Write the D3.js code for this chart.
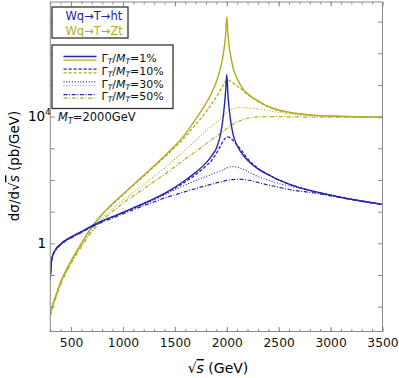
<!DOCTYPE html>
<html><head><meta charset="utf-8">
<script src="https://cdn.jsdelivr.net/npm/d3@7"></script>
<style>body{margin:0;background:#fff} text{font-family:"DejaVu Sans",sans-serif}</style>
</head><body><svg id="c" width="399" height="378"></svg>
<script>
// sqrt(s) in GeV
const sqrtS = [300,310,320,350,400,500,600,700,800,900,1000,1100,1200,1300,1400,1500,1600,1700,1800,1850,1900,1940,1960,1980,1990,2000,2010,2020,2040,2060,2100,2150,2200,2300,2400,2500,2600,2700,2800,3000,3200,3500];
// Wq -> T -> ht  (pb/GeV)
const ht1  = [0.0759,0.251,0.380,0.631,0.955,1.585,2.344,3.548,5.129,6.918,9.550,13.18,18.20,25.70,38.02,58.88,97.72,173.8,346.7,549.5,1000,2818,7079,28180,70790,213800,56230,22390,6310,2818,1202,660.7,416.9,223.9,147.9,100,74.13,57.54,46.77,33.11,24.55,16.98];
const ht10 = [0.0741,0.2455,0.3715,0.6166,0.9333,1.549,2.291,3.467,5.012,6.761,9.333,12.88,17.78,25.12,36.31,54.95,87.10,147.9,275.4,398.1,691.8,1202,1585,1995,2188,2291,2291,2239,2042,1778,1259,794.3,478.6,234.4,147.9,100,74.13,57.54,46.77,33.11,24.55,16.98];
const ht30 = [0.07244,0.2399,0.3631,0.6026,0.9120,1.514,2.239,3.388,4.898,6.607,9.120,12.59,17.38,23.99,33.88,48.98,69.18,95.50,128.8,147.9,173.8,195.0,208.9,223.9,229.1,239.9,245.5,251.2,263.0,263.0,251.2,223.9,186.2,128.8,97.72,77.62,64.57,54.95,46.77,33.11,24.55,16.98];
const ht50 = [0.07079,0.2344,0.3548,0.5888,0.8913,1.479,2.188,3.311,4.677,6.310,8.511,11.48,15.49,20.42,26.92,33.88,42.66,53.70,66.07,72.44,81.28,87.10,89.13,93.33,95.50,97.72,97.72,100,102.3,102.3,104.7,104.7,100,83.18,69.18,58.88,50.12,44.67,40.74,31.62,23.99,16.60];
// Wq -> T -> Zt  (pb/GeV)
const zt1  = [0.005623,0.007943,0.01072,0.02089,0.06026,0.2818,1,3.311,8.318,17.78,35.48,70.79,141.3,281.8,575.4,1202,2818,8318,26300,52480,125900,354800,707900,1995000,4169000,14130000,4786000,1995000,758600,354800,158500,79430,52480,31620,20890,16220,13800,12300,11220,10470,10000,9550];
const zt10 = [0.00537,0.007586,0.01023,0.01995,0.05754,0.2692,0.955,3.162,7.943,16.98,33.88,67.61,131.8,263.0,524.8,1072,2344,5623,14130,23990,41690,70790,91200,117500,131800,141300,144500,141300,128800,114800,93330,69180,50120,30200,20420,15850,13490,12020,11220,10470,10000,9550];
const zt30 = [0.005129,0.007244,0.009772,0.01862,0.0537,0.2455,0.8511,2.630,6.166,12.30,22.91,40.74,72.44,128.8,239.9,457.1,891.3,1778,3548,4898,6761,8710,10000,11220,12020,12880,13800,14790,16220,17380,19050,19500,19050,17380,15490,13800,12300,11220,10720,10230,9772,9550];
const zt50 = [0.004898,0.006918,0.009333,0.01778,0.05012,0.2239,0.7762,2.344,5.248,10.23,18.62,31.62,52.48,89.13,151.4,263.0,457.1,794.3,1380,1820,2399,2951,3311,3715,3981,4266,4467,4786,5248,5754,6761,7943,8913,9772,10000,10000,9772,9772,9550,9550,9550,9333];

const xMajor = [500,1000,1500,2000,2500,3000,3500];
const xMinor = d3.range(300,3501,100);
const yTicks = [1e-2,1e-1,1,10,100,1e3,1e4,1e5,1e6,1e7];
const widthLabels = ["1%","10%","30%","50%"];

const m = {l:50.3, r:382.5, t:2, b:331.5};
const x = d3.scaleLinear().domain([300,3500]).range([m.l,m.r]);
const y = d3.scaleLog().domain([1.64e-3,4.17e7]).range([m.b,m.t]);
const svg = d3.select('#c');
const blue = '#2525b2', olive = '#b3ab1e';
const dashes = [null,'3.2,1.8','1,1.8','4,1.6,1,1.6'];
const widths = [1.4,1.3,1.1,1.2];

svg.append('clipPath').attr('id','clip').append('rect')
  .attr('x',m.l).attr('y',m.t).attr('width',m.r-m.l).attr('height',m.b-m.t);

const line = d3.line().x((d,i)=>x(sqrtS[i])).y(d=>y(d)).curve(d3.curveMonotoneX);
const series = [
  {v:zt50,c:olive,k:3},{v:zt30,c:olive,k:2},{v:zt10,c:olive,k:1},{v:zt1,c:olive,k:0},
  {v:ht50,c:blue,k:3},{v:ht30,c:blue,k:2},{v:ht10,c:blue,k:1},{v:ht1,c:blue,k:0}
];
const gl = svg.append('g').attr('clip-path','url(#clip)');
series.forEach(s=>{
  gl.append('path').attr('d',line(s.v)).attr('fill','none').attr('stroke',s.c)
    .attr('stroke-width',widths[s.k]).attr('stroke-dasharray',dashes[s.k]);
});

// frame & ticks
const axCol = '#8a8a8a';
function styleAxis(g){ g.select('.domain').remove(); g.selectAll('line').attr('stroke',axCol); g.selectAll('text').attr('fill','#111').attr('font-size',12.3); }
svg.append('g').attr('transform',`translate(0,${m.b})`)
  .call(d3.axisBottom(x).tickValues(xMinor).tickSize(-2.5).tickFormat('')).call(styleAxis);
svg.append('g').attr('transform',`translate(0,${m.b})`)
  .call(d3.axisBottom(x).tickValues(xMajor).tickSize(-4.5).tickPadding(7).tickFormat(d3.format('d'))).call(styleAxis);
svg.append('g').attr('transform',`translate(0,${m.t})`)
  .call(d3.axisTop(x).tickValues(xMinor).tickSize(-2.5).tickFormat('')).call(styleAxis);
svg.append('g').attr('transform',`translate(0,${m.t})`)
  .call(d3.axisTop(x).tickValues(xMajor).tickSize(-4.5).tickFormat('')).call(styleAxis);
svg.append('g').attr('transform',`translate(${m.l},0)`)
  .call(d3.axisLeft(y).tickValues(yTicks).tickSize(-4.5).tickFormat('')).call(styleAxis);
svg.append('g').attr('transform',`translate(${m.r},0)`)
  .call(d3.axisRight(y).tickValues(yTicks).tickSize(-4.5).tickFormat('')).call(styleAxis);
svg.append('rect').attr('x',m.l).attr('y',m.t).attr('width',m.r-m.l).attr('height',m.b-m.t)
  .attr('fill','none').attr('stroke',axCol).attr('stroke-width',1);

// y tick labels
svg.append('text').attr('x',46).attr('y',y(1)+4.7).attr('text-anchor','end').attr('font-size',13.5).text('1');
const t4 = svg.append('text').attr('x',28).attr('y',y(1e4)+4.7).attr('font-size',13.5);
t4.append('tspan').text('10');
t4.append('tspan').attr('font-size',8.5).attr('dy',-6).text('4');

// axis titles
const xt = svg.append('text').attr('x',218).attr('y',373).attr('text-anchor','middle').attr('font-size',14);
xt.append('tspan').text('\u221A');
xt.append('tspan').attr('font-style','italic').attr('text-decoration','overline').text('s');
xt.append('tspan').text(' (GeV)');
const yt = svg.append('text').attr('transform','translate(19,166) rotate(-90)').attr('text-anchor','middle').attr('font-size',13.5);
yt.append('tspan').text('d\u03C3/d\u221A');
yt.append('tspan').attr('font-style','italic').attr('text-decoration','overline').text('s');
yt.append('tspan').text(' (pb/GeV)');

// legend 1
svg.append('rect').attr('x',52).attr('y',7).attr('width',76).attr('height',31)
  .attr('fill','#fff').attr('stroke','#333').attr('stroke-width',1.3);
svg.append('text').attr('x',65.5).attr('y',20).attr('font-size',11.5).attr('fill',blue).text('Wq\u2192T\u2192ht');
svg.append('text').attr('x',65.5).attr('y',34.5).attr('font-size',11.5).attr('fill',olive).text('Wq\u2192T\u2192Zt');

// legend 2
svg.append('rect').attr('x',52).attr('y',45).attr('width',121).attr('height',63.5)
  .attr('fill','#fff').attr('stroke','#333').attr('stroke-width',1.3);
widthLabels.forEach((lab,i)=>{
  const cy = 58.3 + i*12.7;
  [blue,olive].forEach((c,j)=>{
    svg.append('line').attr('x1',63.5).attr('x2',96.5).attr('y1',cy-1.8+j*3.6).attr('y2',cy-1.8+j*3.6)
      .attr('stroke',c).attr('stroke-width',widths[i]).attr('stroke-dasharray',dashes[i]);
  });
  const t = svg.append('text').attr('x',101.5).attr('y',cy+4).attr('font-size',11).attr('fill','#111');
  t.append('tspan').text('\u0393');
  t.append('tspan').attr('font-size',7.5).attr('font-style','italic').attr('dy',2).text('T');
  t.append('tspan').attr('dy',-2).text('/');
  t.append('tspan').attr('font-style','italic').text('M');
  t.append('tspan').attr('font-size',7.5).attr('font-style','italic').attr('dy',2).text('T');
  t.append('tspan').attr('dy',-2).text('='+lab);
});

// mass note
const mt = svg.append('text').attr('x',58).attr('y',121).attr('font-size',11.5).attr('fill','#111');
mt.append('tspan').attr('font-style','italic').text('M');
mt.append('tspan').attr('font-size',8).attr('font-style','italic').attr('dy',2.5).text('T');
mt.append('tspan').attr('dy',-2.5).text('=2000GeV');
</script></body></html>
